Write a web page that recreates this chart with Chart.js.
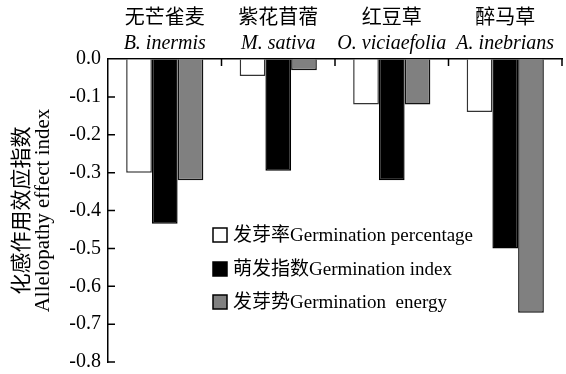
<!DOCTYPE html>
<html>
<head>
<meta charset="utf-8">
<script src="https://cdn.jsdelivr.net/npm/chart.js@4"></script>
<style>body{margin:0;background:#fff}</style>
</head>
<body>
<canvas id="effectChart" width="566" height="374"></canvas>
<script>
const speciesCn = ['无芒雀麦', '紫花苜蓿', '红豆草', '醉马草'];
const speciesLatin = ['B. inermis', 'M. sativa', 'O. viciaefolia', 'A. inebrians'];
const germPercentage = [-0.30, -0.045, -0.12, -0.14];
const germIndex = [-0.435, -0.295, -0.32, -0.50];
const germEnergy = [-0.32, -0.03, -0.12, -0.67];
const seriesNames = ['发芽率Germination percentage', '萌发指数Germination index', '发芽势Germination  energy'];
const yTitle = ['化感作用效应指数', 'Allelopathy effect index'];

const serif = '"Liberation Serif", "Noto Sans CJK SC", serif';

// inward tick marks + legend drawn inside the plot
const frameExtras = {
  id: 'frameExtras',
  afterDraw(chart) {
    const {ctx, chartArea: {left, top}, scales: {x, y}} = chart;
    ctx.save();
    ctx.strokeStyle = '#000';
    ctx.lineWidth = 1.5;
    ctx.beginPath();
    y.ticks.forEach(t => {
      if (Math.abs(t.value) < 1e-9) return;
      const py = y.getPixelForValue(t.value);
      ctx.moveTo(left, py);
      ctx.lineTo(left + 7, py);
    });
    for (let i = 0; i < speciesLatin.length; i++) {
      const px = x.getPixelForValue(i + 0.5);
      ctx.moveTo(px, top);
      ctx.lineTo(px, top + 7);
    }
    ctx.stroke();

    // legend
    const rows = [235, 269, 302];
    ctx.font = '19px ' + serif;
    ctx.textBaseline = 'middle';
    chart.data.datasets.forEach((ds, i) => {
      ctx.fillStyle = ds.backgroundColor;
      ctx.fillRect(213, rows[i] - 7, 14, 14);
      ctx.lineWidth = 1.5;
      ctx.strokeStyle = '#000';
      ctx.strokeRect(213, rows[i] - 7, 14, 14);
      ctx.fillStyle = '#000';
      ctx.fillText(ds.label, 233, rows[i] + 1);
    });
    ctx.restore();
  }
};

new Chart(document.getElementById('effectChart').getContext('2d'), {
  type: 'bar',
  data: {
    labels: speciesLatin,
    datasets: [
      {label: seriesNames[0], data: germPercentage, backgroundColor: '#ffffff', borderColor: '#333333', borderWidth: 1.5},
      {label: seriesNames[1], data: germIndex, backgroundColor: '#000000', borderColor: '#000000', borderWidth: 1.5},
      {label: seriesNames[2], data: germEnergy, backgroundColor: '#808080', borderColor: '#111111', borderWidth: 1.5}
    ]
  },
  options: {
    responsive: false,
    devicePixelRatio: 1,
    animation: false,
    layout: {padding: {left: 0, right: 4, top: 0, bottom: 12}},
    datasets: {bar: {categoryPercentage: 0.68, barPercentage: 1.0}},
    plugins: {legend: {display: false}, tooltip: {enabled: false}},
    scales: {
      x: {
        position: 'top',
        weight: 0,
        offset: true,
        grid: {drawOnChartArea: false, drawTicks: false},
        border: {display: true, color: '#000', width: 1.5},
        ticks: {color: '#000', padding: 3, maxRotation: 0, font: {family: serif, size: 20, style: 'italic'}},
        afterFit: s => { s.height = 27; }
      },
      xcn: {
        type: 'category',
        labels: speciesCn,
        position: 'top',
        weight: 1,
        offset: true,
        grid: {display: false, drawTicks: false},
        border: {display: false},
        ticks: {color: '#000', padding: 1, maxRotation: 0, font: {family: serif, size: 20}},
        afterFit: s => { s.height = 32; }
      },
      y: {
        min: -0.8,
        max: 0,
        grid: {drawOnChartArea: false, drawTicks: false},
        border: {display: true, color: '#000', width: 1.5},
        ticks: {
          stepSize: 0.1,
          color: '#000',
          padding: 7,
          font: {family: serif, size: 20},
          callback: v => Number(v).toFixed(1)
        },
        title: {
          display: true,
          text: yTitle,
          color: '#000',
          padding: {top: 12, bottom: 0},
          font: {family: serif, size: 21, lineHeight: 1.0}
        },
        afterFit: s => { s.width = 108; s.paddingTop = 0; s.paddingBottom = 0; }
      }
    }
  },
  plugins: [frameExtras]
});
</script>
</body>
</html>
